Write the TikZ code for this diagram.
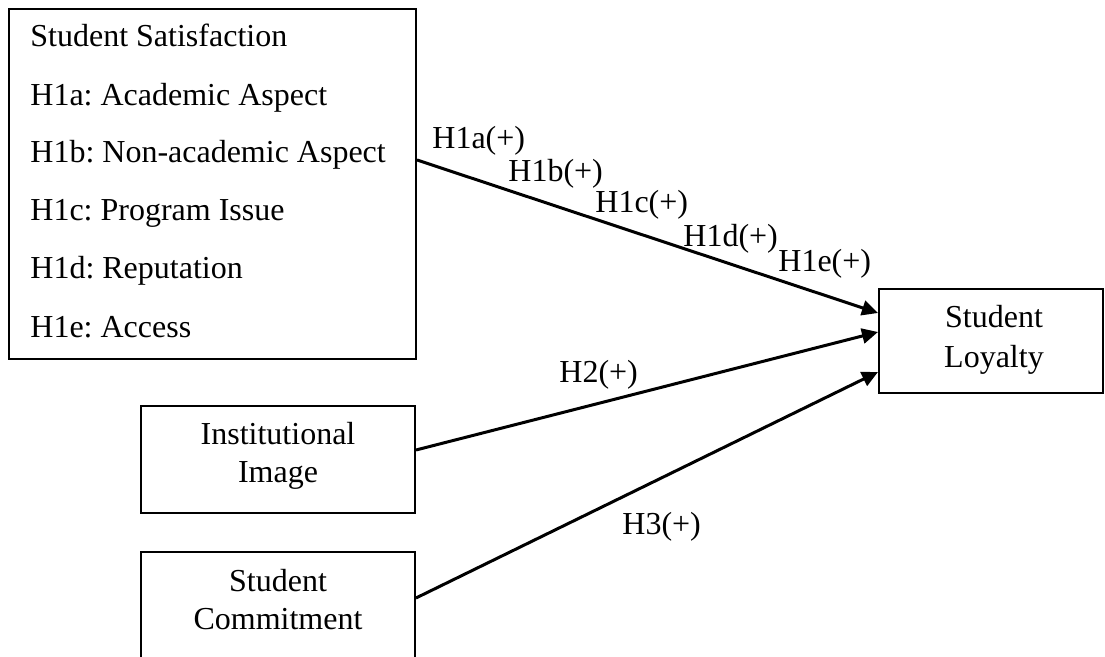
\documentclass[tikz,border=0pt]{standalone}
\usepackage{fontspec}
\setmainfont{Liberation Serif}
\usetikzlibrary{arrows.meta}
\frenchspacing
\begin{document}
\begin{tikzpicture}[x=0.5pt,y=-0.5pt,
  box/.style={draw, line width=1pt, inner sep=0pt},
  txt/.style={inner sep=0pt, font=\fontsize{16}{20}\selectfont},
  lbl/.style={txt, anchor=base west},
  ctr/.style={txt, anchor=base},
  arr/.style={line width=1.5pt, -{Triangle[length=8pt,width=7.5pt]}}]
\useasboundingbox (0,0) rectangle (1105,657);
\clip (0,0) rectangle (1105,657);
% boxes
\node[box, minimum width=203.5pt, minimum height=175pt] (S) at (212.5,184) {};
\node[box, minimum width=112pt, minimum height=52pt] (L) at (991,341) {};
\node[box, minimum width=137pt, minimum height=53.5pt] (I) at (278,459.5) {};
\node[box, minimum width=137pt, minimum height=74pt] (C) at (278,626) {};
% texts in boxes
\node[lbl] (s0) at (30,47) {Student Satisfaction};
\node[lbl] (s1) at (30,106) {H1a: Academic Aspect};
\node[lbl] (s2) at (30,163) {H1b: Non-academic Aspect};
\node[lbl] (s3) at (30,221) {H1c: Program Issue};
\node[lbl] (s4) at (30,279) {H1d: Reputation};
\node[lbl] (s5) at (30,338) {H1e: Access};
\node[ctr] (l1) at (994,328) {Student};
\node[ctr] (l2) at (994,368) {Loyalty};
\node[ctr] (i1) at (278,445) {Institutional};
\node[ctr] (i2) at (278,483) {Image};
\node[ctr] (c1) at (278,592) {Student};
\node[ctr] (c2) at (278,630) {Commitment};
% connectors
\draw[arr] ([yshift=12pt]S.east) -- ([yshift=14pt]L.west);
\draw[arr] ([yshift=4.75pt]I.east) -- ([yshift=4.5pt]L.west);
\draw[arr] ([yshift=14pt]C.east) -- ([yshift=-15.5pt]L.west);
% connector labels
\node[lbl] (h1a) at (432,149) {H1a(+)};
\node[lbl] (h1b) at (508,182) {H1b(+)};
\node[lbl] (h1c) at (595,213) {H1c(+)};
\node[lbl] (h1d) at (683,247) {H1d(+)};
\node[lbl] (h1e) at (778,272) {H1e(+)};
\node[lbl] (h2) at (559,383) {H2(+)};
\node[lbl] (h3) at (622,535) {H3(+)};
\end{tikzpicture}
\end{document}
